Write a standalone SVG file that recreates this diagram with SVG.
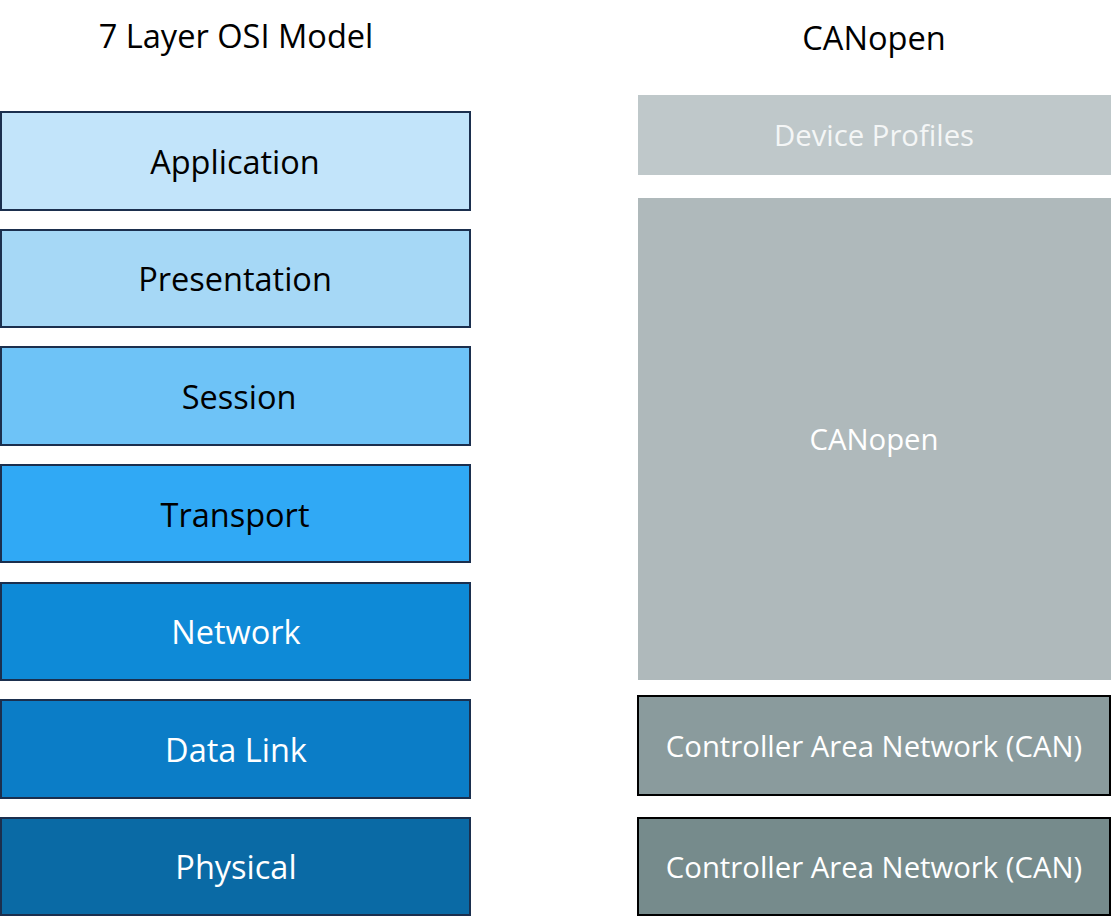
<svg xmlns="http://www.w3.org/2000/svg" width="1111" height="917" viewBox="0 0 1111 917">
<style>
text{font-family:"Open Sans","Noto Sans","Liberation Sans",sans-serif;text-anchor:middle;}
.osi rect{stroke:#1b2f4e;stroke-width:2;}
.can rect{stroke:#000;stroke-width:2;}
.t{font-size:32.5px;}
.r{font-size:29.3px;}
.title{font-size:32.6px;fill:#000;}
.dk{fill:#000;}
.wt{fill:#fff;}
</style>
<rect width="1111" height="917" fill="#fff"/>
<text class="title" x="236" y="48">7 Layer OSI Model</text>
<text class="title" x="874" y="50">CANopen</text>
<g id="application" class="osi"><rect x="1" y="112" width="469" height="98" fill="#c2e4fa"/><text class="t dk" x="235" y="174">Application</text></g>
<g id="presentation" class="osi"><rect x="1" y="230" width="469" height="97" fill="#a6d8f6"/><text class="t dk" x="235" y="291">Presentation</text></g>
<g id="session" class="osi"><rect x="1" y="347" width="469" height="98" fill="#6ec3f7"/><text class="t dk" x="239" y="409">Session</text></g>
<g id="transport" class="osi"><rect x="1" y="465" width="469" height="97" fill="#30a9f5"/><text class="t dk" x="235" y="527">Transport</text></g>
<g id="network" class="osi"><rect x="1" y="583" width="469" height="97" fill="#0e8ad7"/><text class="t wt" x="236" y="644">Network</text></g>
<g id="datalink" class="osi"><rect x="1" y="700" width="469" height="98" fill="#0b7dc7"/><text class="t wt" x="236" y="762">Data Link</text></g>
<g id="physical" class="osi"><rect x="1" y="818" width="469" height="97" fill="#0a6aa5"/><text class="t wt" x="236" y="879">Physical</text></g>
<g id="deviceprofiles"><rect x="638" y="95" width="473" height="80" fill="#bfc8ca"/><text class="r" fill="#f4f6f6" x="874" y="146">Device Profiles</text></g>
<g id="canopen"><rect x="638" y="198" width="473" height="482" fill="#afb9bb"/><text class="r wt" x="874" y="450">CANopen</text></g>
<g id="can-datalink" class="can"><rect x="638" y="696" width="472" height="99" fill="#8a9b9d"/><text class="r wt" x="874" y="757">Controller Area Network (CAN)</text></g>
<g id="can-physical" class="can"><rect x="638" y="818" width="472" height="97" fill="#768b8c"/><text class="r wt" x="874" y="878">Controller Area Network (CAN)</text></g>
<g id="connectors"></g>
</svg>
